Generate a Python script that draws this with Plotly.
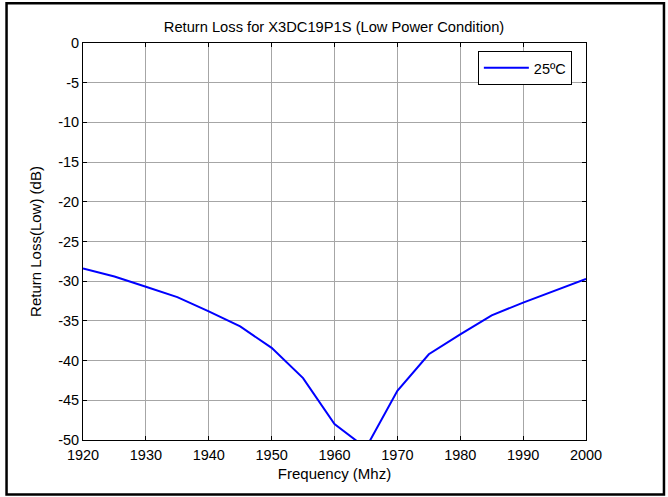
import plotly.graph_objects as go

freq = [1920, 1925, 1930, 1935, 1940, 1945, 1950, 1955, 1960, 1965, 1970, 1975, 1980, 1985, 1990, 1995, 2000]
return_loss = [-28.4, -29.4, -30.7, -32.0, -33.8, -35.7, -38.4, -42.2, -48.0, -51.0, -43.8, -39.2, -36.7, -34.3, -32.7, -31.2, -29.7]
x_ticks = [1920, 1930, 1940, 1950, 1960, 1970, 1980, 1990, 2000]
y_ticks = [0, -5, -10, -15, -20, -25, -30, -35, -40, -45, -50]
y_tick_labels = ["0", "-5", "-10", "-15", "-20", "-25", "-30", "-35", "-40", "-45", "-50"]

FONT = "Liberation Sans, Arial"
FS = 14.5

fig = go.Figure()
fig.add_trace(go.Scatter(x=freq, y=return_loss, mode="lines", name="25ºC",
                         line=dict(color="#0000ff", width=2)))

axis_common = dict(showline=True, linecolor="black", linewidth=1, mirror="ticks",
                   ticks="inside", ticklen=4, tickcolor="black",
                   showgrid=True, gridcolor="#a6a6a6", gridwidth=1, zeroline=False,
                   tickfont=dict(family=FONT, size=FS, color="black"))

fig.update_layout(
    width=668, height=497,
    margin=dict(l=83, r=82, t=43, b=57),
    paper_bgcolor="white", plot_bgcolor="white",
    title=dict(text="Return Loss for X3DC19P1S (Low Power Condition)", x=0.5, xanchor="center",
               y=1 - 27 / 497, yanchor="middle",
               font=dict(family=FONT, size=14.7, color="black")),
    xaxis=dict(range=[1920, 2000], tickvals=x_ticks, ticklabelstandoff=2,
               title=dict(text="Frequency (Mhz)", standoff=6,
                          font=dict(family=FONT, size=15, color="black")),
               **axis_common),
    yaxis=dict(range=[-50, 0], tickvals=y_ticks, ticktext=y_tick_labels,
               title=dict(text="Return Loss(Low) (dB)", standoff=12,
                          font=dict(family=FONT, size=15, color="black")),
               **axis_common),
    showlegend=True,
    legend=dict(x=0.785, y=0.98, xanchor="left", yanchor="top", itemwidth=45,
                bgcolor="white", bordercolor="black", borderwidth=1,
                font=dict(family=FONT, size=FS, color="black")),
    shapes=[dict(type="rect", xref="paper", yref="paper",
                 x0=-0.152, x1=1.155, y0=-0.137, y1=1.1,
                 line=dict(color="black", width=2.5), layer="above")],
)

fig.write_html("out.html", config={"displayModeBar": False},
               post_script="document.body.style.margin='0';")
